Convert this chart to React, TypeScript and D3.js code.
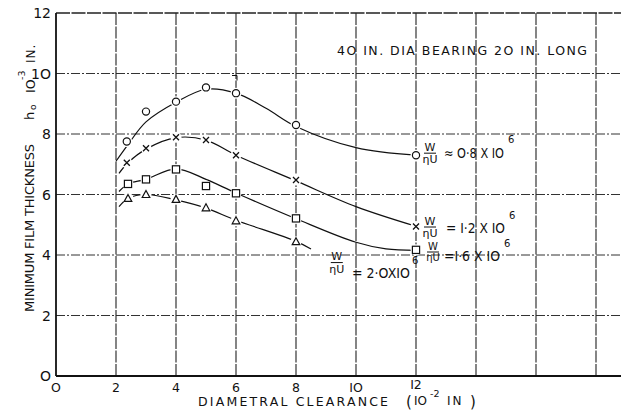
import React from "react";
import * as d3 from "d3";

const W = 621;
const H = 413;

const xTicks = [0, 2, 4, 6, 8, 10, 12];
const xGrid = [2, 4, 6, 8, 10, 12, 14, 16, 18];
const yTicks = [0, 2, 4, 6, 8, 10, 12];
const yGrid = [2, 4, 6, 8, 10];

// Measured points (clearance 10^-2 in, film thickness 10^-3 in)
const circlePts: [number, number][] = [[2.36, 7.75], [3.0, 8.74], [4.0, 9.07], [5.0, 9.54], [6.0, 9.35], [8.0, 8.3], [12.0, 7.3]];
const crossPts: [number, number][] = [[2.36, 7.05], [3.0, 7.53], [4.0, 7.89], [5.0, 7.8], [6.0, 7.3], [8.0, 6.48], [12.0, 4.94]];
const squarePts: [number, number][] = [[2.4, 6.35], [3.0, 6.5], [4.0, 6.83], [5.0, 6.28], [6.0, 6.04], [8.0, 5.21], [12.0, 4.17]];
const trianglePts: [number, number][] = [[2.4, 5.87], [3.0, 6.0], [4.0, 5.84], [5.0, 5.56], [6.0, 5.13], [8.0, 4.44]];

// Faired curves
const circleCurve: [number, number][] = [[2.0, 7.1], [2.4, 7.65], [3.0, 8.4], [4.0, 9.05], [5.0, 9.48], [6.0, 9.35], [7.0, 8.85], [8.0, 8.25], [10.0, 7.55], [12.0, 7.3]];
const crossCurve: [number, number][] = [[2.1, 6.7], [2.4, 7.05], [3.0, 7.5], [4.0, 7.88], [5.0, 7.8], [6.0, 7.3], [8.0, 6.45], [10.0, 5.6], [12.0, 4.95]];
const squareCurve: [number, number][] = [[2.1, 6.1], [2.4, 6.35], [3.0, 6.5], [4.0, 6.85], [5.0, 6.5], [6.0, 6.05], [8.0, 5.2], [10.0, 4.42], [11.0, 4.2], [12.0, 4.15]];
const triangleCurve: [number, number][] = [[2.1, 5.6], [2.4, 5.87], [3.0, 6.0], [4.0, 5.82], [5.0, 5.55], [6.0, 5.15], [8.0, 4.45], [8.5, 4.2]];

const x = d3.scaleLinear().domain([0, 20]).range([56, 656]);
const y = d3.scaleLinear().domain([0, 12]).range([376, 13]);

const line = d3
  .line<[number, number]>()
  .x((d) => x(d[0]))
  .y((d) => y(d[1]))
  .curve(d3.curveCatmullRom.alpha(0.5));

const FONT = "'DejaVu Sans', sans-serif";

function Marker({ kind, cx, cy }: { kind: string; cx: number; cy: number }) {
  const s = { stroke: "#111", strokeWidth: 1.2, fill: "#fff" };
  if (kind === "circle") return <circle cx={cx} cy={cy} r={3.6} {...s} />;
  if (kind === "square") return <rect x={cx - 3.6} y={cy - 3.6} width={7.2} height={7.2} {...s} />;
  if (kind === "triangle")
    return <path d={`M${cx},${cy - 4}L${cx + 3.8},${cy + 3}L${cx - 3.8},${cy + 3}Z`} {...s} />;
  return (
    <g stroke="#111" strokeWidth={1.3}>
      <path d={`M${cx - 3},${cy - 3}L${cx + 3},${cy + 3}M${cx - 3},${cy + 3}L${cx + 3},${cy - 3}`} />
    </g>
  );
}

function Frac({ px, py, size = 11 }: { px: number; py: number; size?: number }) {
  return (
    <g fontFamily={FONT} fontSize={size} fill="#111">
      <text x={px} y={py - 2.5} textAnchor="middle">W</text>
      <line x1={px - 6} x2={px + 6} y1={py} y2={py} stroke="#111" strokeWidth={1} />
      <text x={px} y={py + size - 1} textAnchor="middle">ηU</text>
    </g>
  );
}

const series = [
  { kind: "circle", pts: circlePts, curve: circleCurve },
  { kind: "cross", pts: crossPts, curve: crossCurve },
  { kind: "square", pts: squarePts, curve: squareCurve },
  { kind: "triangle", pts: trianglePts, curve: triangleCurve },
];

export default function App() {
  return (
    <svg width={W} height={H} style={{ position: "absolute", left: 0, top: 0, background: "#fff" }}>
      <rect width={W} height={H} fill="#fff" />
      {/* grid */}
      {yGrid.map((v) => (
        <line key={"hy" + v} x1={x(0)} x2={W} y1={y(v)} y2={y(v)} stroke="#333" strokeWidth={1} strokeDasharray="9,2,2,2" />
      ))}
      {xGrid.map((v) => (
        <line key={"vx" + v} x1={x(v)} x2={x(v)} y1={y(12)} y2={y(0)} stroke="#222" strokeWidth={1.1} strokeDasharray="12,1.5" />
      ))}
      {/* frame */}
      <line x1={x(0)} x2={W} y1={y(12)} y2={y(12)} stroke="#222" strokeWidth={1.3} strokeDasharray="14,1.5" />
      <line x1={x(0)} x2={W} y1={y(0)} y2={y(0)} stroke="#111" strokeWidth={1.8} />
      <line x1={x(0)} x2={x(0)} y1={y(12)} y2={y(0)} stroke="#111" strokeWidth={1.8} />

      {/* y ticks */}
      {yTicks.map((v) => (
        <text key={"yt" + v} x={x(0) - 5} y={y(v) + 5} textAnchor="end" fontFamily={FONT} fontSize={14} fill="#111">
          {v === 0 ? "O" : v >= 10 ? String(v).replace("0", "O") : v}
        </text>
      ))}
      {/* x ticks */}
      {xTicks.map((v) => (
        <text key={"xt" + v} x={x(v)} y={v === 12 ? y(0) + 13 : y(0) + 16} textAnchor="middle" fontFamily={FONT} fontSize={12.5} fill="#111">
          {v === 0 ? "O" : v === 10 ? "IO" : v === 12 ? "I2" : v}
        </text>
      ))}

      {/* axis titles */}
      <text x={198} y={406} fontFamily={FONT} fontSize={12.5} textLength={190} lengthAdjust="spacing" fill="#111">
        DIAMETRAL  CLEARANCE
      </text>
      <text x={406} y={407} fontFamily={FONT} fontSize={15} fill="#111">(</text>
      <text x={414} y={405} fontFamily={FONT} fontSize={12} fill="#111">IO</text>
      <text x={430} y={397} fontFamily={FONT} fontSize={9.5} fill="#111">-2</text>
      <text x={447} y={405} fontFamily={FONT} fontSize={12} letterSpacing={2} fill="#111">IN</text>
      <text x={470} y={407} fontFamily={FONT} fontSize={15} fill="#111">)</text>

      <g transform="translate(34,0) rotate(-90)">
        <text x={-312} y={0} fontFamily={FONT} fontSize={13} textLength={168} lengthAdjust="spacing" fill="#111">
          MINIMUM FILM THICKNESS
        </text>
        <text x={-120} y={0} fontFamily={FONT} fontSize={13} fill="#111">h</text>
        <text x={-110} y={2} fontFamily={FONT} fontSize={9} fill="#111">o</text>
        <text x={-93} y={1} fontFamily={FONT} fontSize={12.5} fill="#111">IO</text>
        <text x={-80} y={-9} fontFamily={FONT} fontSize={9.5} fill="#111">-3</text>
        <text x={-63} y={1} fontFamily={FONT} fontSize={12} letterSpacing={1} fill="#111">IN.</text>
      </g>

      <text x={337} y={55} fontFamily={FONT} fontSize={12.5} textLength={250} lengthAdjust="spacing" fill="#111">
        4O IN. DIA  BEARING   2O IN. LONG
      </text>

      {/* curves */}
      {series.map((s) => (
        <path key={"c" + s.kind} d={line(s.curve) || ""} fill="none" stroke="#111" strokeWidth={1.2} />
      ))}
      {/* markers with halo */}
      {series.map((s) =>
        s.pts.map((p, i) => (
          <g key={s.kind + i}>
            <circle cx={x(p[0])} cy={y(p[1])} r={5.5} fill="#fff" />
            <Marker kind={s.kind} cx={x(p[0])} cy={y(p[1])} />
          </g>
        ))
      )}

      {/* small mark above x=6 */}
      <path d={`M${x(6) - 4},${y(10) + 2}L${x(6) + 1},${y(10) + 2}L${x(6) + 1},${y(10) + 7}`} fill="none" stroke="#111" strokeWidth={1} />

      {/* series labels */}
      <Frac px={x(12) + 14} py={y(7.3) - 2} />
      <text x={444} y={158} fontFamily={FONT} fontSize={14} textLength={60} lengthAdjust="spacingAndGlyphs" fill="#111">≈ O·8 X IO</text>
      <text x={508} y={143} fontFamily={FONT} fontSize={10} fill="#111">6</text>

      <Frac px={x(12) + 14} py={227} />
      <text x={446} y={233} fontFamily={FONT} fontSize={14} textLength={59} lengthAdjust="spacingAndGlyphs" fill="#111">= I·2 X IO</text>
      <text x={509} y={219} fontFamily={FONT} fontSize={10} fill="#111">6</text>

      <Frac px={x(12) + 17} py={252} size={10} />
      <text x={444} y={261} fontFamily={FONT} fontSize={14} textLength={56} lengthAdjust="spacingAndGlyphs" fill="#111">=I·6 X IO</text>
      <text x={504} y={247} fontFamily={FONT} fontSize={10} fill="#111">6</text>

      <Frac px={x(9.36)} py={y(3.75)} />
      <text x={352} y={278} fontFamily={FONT} fontSize={14} textLength={58} lengthAdjust="spacingAndGlyphs" fill="#111">= 2·OXIO</text>
      <text x={412} y={264} fontFamily={FONT} fontSize={10} fill="#111">6</text>
    </svg>
  );
}
